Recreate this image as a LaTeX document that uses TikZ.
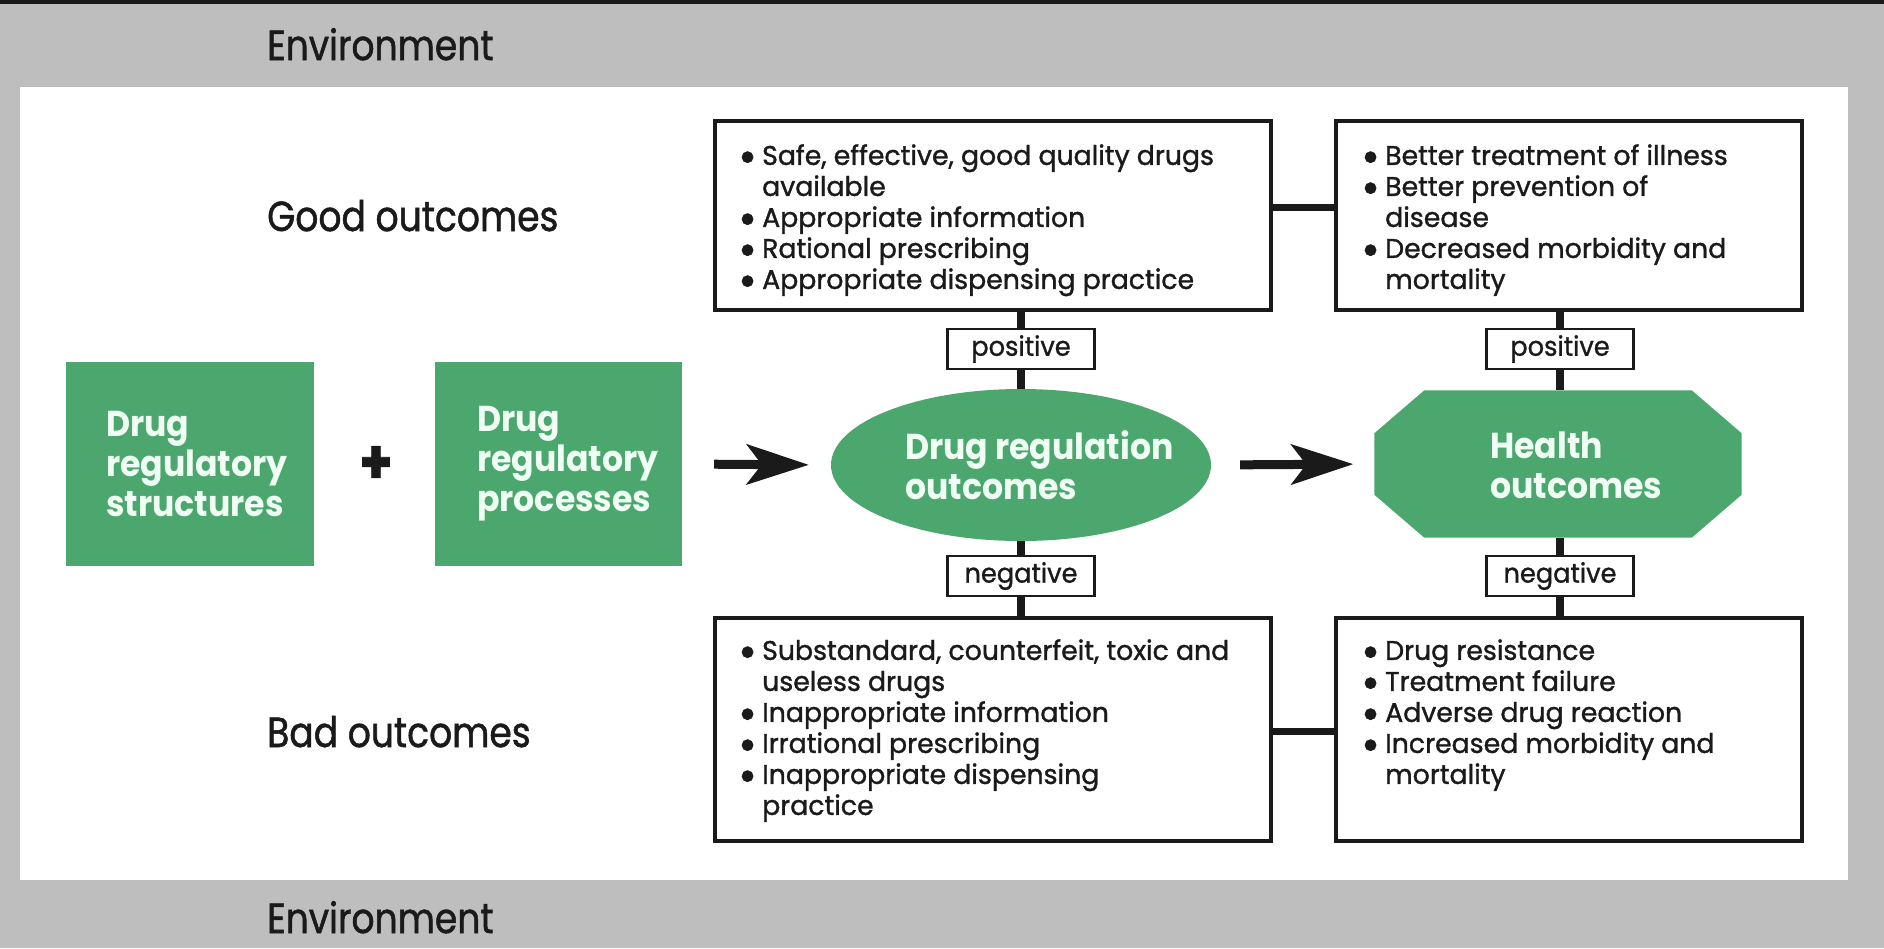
\documentclass[tikz,border=0pt]{standalone}
\usepackage{fontspec}
\setmainfont{Poppins}[FakeStretch=0.8]
\newfontfamily\bodyf{Poppins}[FakeStretch=0.99, FakeBold=1.2]
\newfontfamily\headf{Poppins}[FakeStretch=0.86, FakeBold=1.2]
\newfontfamily\greenf{Poppins}[FakeStretch=0.92]
\newfontfamily\lblf{Poppins}[FakeStretch=0.95, FakeBold=1]
\usetikzlibrary{arrows.meta,shapes.geometric,calc}
\definecolor{envgray}{RGB}{190,190,190}
\definecolor{dgreen}{RGB}{76,167,111}
\definecolor{ink}{RGB}{26,26,26}
\definecolor{gtext}{RGB}{240,255,244}
\newcommand\bul{\makebox[24pt][l]{\smash{\raisebox{-0.28em}{\scalebox{1.7}{\textbullet}}}}}
\newcommand\ind{\hspace*{24pt}}
\begin{document}
\begin{tikzpicture}[x=1pt,y=-1pt,
  heading/.style={font=\headf\fontsize{42}{46}\selectfont, text=ink, anchor=base west, inner sep=0pt},
  greenbox/.style={fill=dgreen, minimum width=248pt, minimum height=204pt, inner sep=0pt, draw=none},
  gtxt/.style={font=\greenf\bfseries\fontsize{36}{40}\selectfont, text=gtext, align=left, anchor=west, inner sep=0pt},
  outbox/.style={draw=ink, line width=3.5pt, fill=white, inner sep=0pt},
  blist/.style={font=\bodyf\fontsize{27}{31}\selectfont, text=ink, align=left, anchor=north west, inner sep=0pt},
  lbl/.style={draw=ink, line width=2.5pt, fill=white, minimum width=147pt, minimum height=40pt, inner sep=0pt, font=\lblf\fontsize{27}{30}\selectfont, text=ink},
  conn/.style={line width=8pt, draw=ink},
  bigarrow/.style={line width=9pt, draw=ink, -{Stealth[length=62pt,width=40pt,inset=15pt]}}
]
\useasboundingbox (0,0) rectangle (1884,948);
\fill[envgray] (0,0) rectangle (1884,948);
\fill[ink] (0,0) rectangle (1884,4);
\fill[white] (20,87) rectangle (1848,880);

% headings
\node[heading] (envtop) at (267,60) {Environment};
\node[heading] (good) at (267,231) {Good outcomes};
\node[heading] (bad) at (267,747) {Bad outcomes};
\node[heading] (envbot) at (267,933) {Environment};

% green boxes
\node[greenbox] (g1) at (190,464) {};
\node[gtxt] (g1t) at (106,464) {Drug\\regulatory\\structures};
\node[font=\headf\bfseries\fontsize{62}{62}\selectfont, text=ink, inner sep=0pt] (plus) at (376,465) {+};
\node[greenbox, minimum width=247pt] (g2) at (558.5,464) {};
\node[gtxt] (g2t) at (477,464) {Drug\\regulatory\\processes};

% ellipse
\node[ellipse, fill=dgreen, minimum width=380pt, minimum height=152pt, inner sep=0pt] (dro) at (1021,465) {};
\node[gtxt] (drot) at (905,465) {Drug regulation\\outcomes};

% octagon
\node[minimum width=367pt, minimum height=147pt, inner sep=0pt] (ho) at (1558,464) {};
\fill[dgreen] ($(ho.north west)+(50,0)$) -- ($(ho.north east)+(-50,0)$) -- ($(ho.north east)+(0,43)$) -- ($(ho.south east)+(0,-43)$) -- ($(ho.south east)+(-50,0)$) -- ($(ho.south west)+(50,0)$) -- ($(ho.south west)+(0,-43)$) -- ($(ho.north west)+(0,43)$) -- cycle;
\node[gtxt] (hot) at (1490,465) {Health\\outcomes};

% outcome boxes
\node[outbox, minimum width=556pt, minimum height=189pt] (tl) at (993,215.5) {};
\node[outbox, minimum width=466pt, minimum height=189pt] (tr) at (1569,215.5) {};
\node[outbox, minimum width=556pt, minimum height=223pt] (bl) at (993,729.5) {};
\node[outbox, minimum width=466pt, minimum height=223pt] (br) at (1569,729.5) {};

\node[blist] (tlt) at (738,143) {\strut\bul Safe, effective, good quality drugs\\\ind available\\\bul Appropriate information\\\bul Rational prescribing\\\bul Appropriate dispensing practice};
\node[blist] (trt) at (1361,143) {\strut\bul Better treatment of illness\\\bul Better prevention of\\\ind disease\\\bul Decreased morbidity and\\\ind mortality};
\node[blist] (blt) at (738,638) {\strut\bul Substandard, counterfeit, toxic and\\\ind useless drugs\\\bul Inappropriate information\\\bul Irrational prescribing\\\bul Inappropriate dispensing\\\ind practice};
\node[blist] (brt) at (1361,638) {\strut\bul Drug resistance\\\bul Treatment failure\\\bul Adverse drug reaction\\\bul Increased morbidity and\\\ind mortality};

% labels
\node[lbl] (p1) at (1021,349) {positive};
\node[lbl] (n1) at (1021,576) {negative};
\node[lbl] (p2) at (1560,349) {positive};
\node[lbl] (n2) at (1560,576) {negative};

% connectors
\draw[conn] (p1.north) -- (p1.north |- tl.south);
\draw[conn] (p1.south) -- (dro.north);
\draw[conn] (n1.north) -- (dro.south);
\draw[conn] (n1.south) -- (n1.south |- bl.north);
\draw[conn] (p2.north) -- (p2.north |- tr.south);
\draw[conn] (p2.south) -- (p2.south |- ho.north);
\draw[conn] (n2.north) -- (n2.north |- ho.south);
\draw[conn] (n2.south) -- (n2.south |- br.north);
\draw[conn, line width=7pt] ([yshift=8pt]tl.east) -- ([yshift=8pt]tr.west);
\draw[conn, line width=7pt] ([yshift=-2pt]bl.east) -- ([yshift=-2pt]br.west);

% arrows
\draw[bigarrow, shorten <=32pt, shorten >=22pt] (g2.east) -- (dro.west);
\draw[bigarrow, shorten <=29pt, shorten >=21pt] (dro.east) -- (ho.west);
\end{tikzpicture}
\end{document}
